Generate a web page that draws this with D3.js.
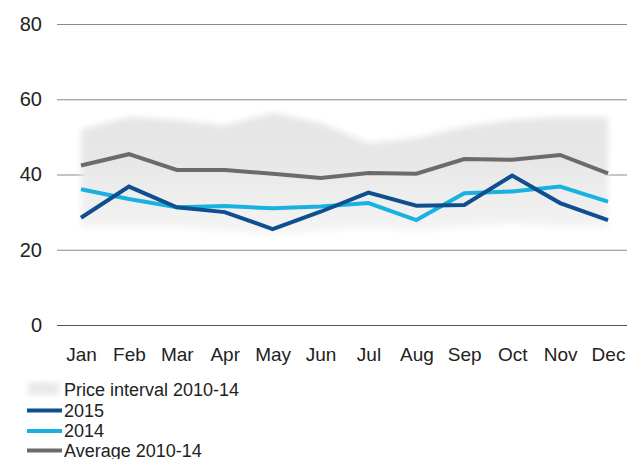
<!DOCTYPE html>
<html>
<head>
<meta charset="utf-8">
<script src="https://cdn.jsdelivr.net/npm/d3@7"></script>
<style>
  body { margin: 0; background: #fff; }
  text { font-family: "Liberation Sans", Arial, sans-serif; }
</style>
</head>
<body>
<div id="chart"></div>
<script>
// months on the x axis
const months = ["Jan","Feb","Mar","Apr","May","Jun","Jul","Aug","Sep","Oct","Nov","Dec"];
// price interval 2010-14 (min / max)
const bandLow  = [26, 26, 26, 25, 24, 25, 26, 25, 26, 27, 26, 26];
const bandHigh = [51.9, 55.3, 54.5, 53, 56.4, 53.7, 48.4, 49.7, 52.7, 54.5, 55.3, 55.3];
// series
const avg1014 = [42.4, 45.4, 41.2, 41.2, 40.2, 39.1, 40.4, 40.2, 44.1, 43.9, 45.2, 40.3];
const y2015   = [28.5, 36.8, 31.3, 30.0, 25.5, 30.1, 35.2, 31.7, 31.9, 39.7, 32.4, 27.9];
const y2014   = [36.1, 33.5, 31.3, 31.6, 31.0, 31.5, 32.4, 27.9, 35.0, 35.5, 36.8, 32.8];
const yTicks  = [0, 20, 40, 60, 80];

const w = 627, h = 459;
const svg = d3.select("#chart").append("svg").attr("width", w).attr("height", h);

const x = d3.scalePoint().domain(months).range([81, 608]);
const y = d3.scaleLinear().domain([0, 80]).range([325, 24]);

const defs = svg.append("defs");
// soft edge for the price band
defs.append("filter").attr("id", "soft")
  .append("feGaussianBlur").attr("stdDeviation", 3);
// band is darker at the top, fading out at the bottom
const grad = defs.append("linearGradient").attr("id", "bandFill")
  .attr("gradientUnits", "userSpaceOnUse")
  .attr("x1", 0).attr("x2", 0).attr("y1", y(56)).attr("y2", y(24));
grad.append("stop").attr("offset", "0%").attr("stop-color", "#e5e5e5");
grad.append("stop").attr("offset", "40%").attr("stop-color", "#e8e7e7");
grad.append("stop").attr("offset", "100%").attr("stop-color", "#f6f5f5");

// gridlines + y labels
const yAxis = d3.axisLeft(y).tickValues(yTicks).tickSize(-(w - 57)).tickPadding(15);
const gy = svg.append("g").attr("transform", "translate(57,0)").call(yAxis);
gy.select(".domain").remove();
gy.selectAll(".tick line").attr("stroke", d => d === 0 ? "#555" : "#8a8a8a").attr("stroke-width", 1.2);
gy.selectAll(".tick text").attr("font-size", 20).attr("fill", "#222").attr("x", -15);

// price interval band
const area = d3.area()
  .x((d, i) => x(months[i]))
  .y0(d => y(d[0]))
  .y1(d => y(d[1]));
svg.append("path")
  .datum(bandLow.map((v, i) => [v, bandHigh[i]]))
  .attr("d", area)
  .attr("fill", "url(#bandFill)")
  .attr("filter", "url(#soft)");

// lines
const line = d3.line().x((d, i) => x(months[i])).y(d => y(d));
const series = [
  { name: "Average 2010-14", values: avg1014, color: "#6e6a6a" },
  { name: "2014", values: y2014, color: "#19b1e0" },
  { name: "2015", values: y2015, color: "#0d4f8f" }
];
series.forEach(s => {
  svg.append("path")
    .attr("d", line(s.values))
    .attr("fill", "none")
    .attr("stroke", s.color)
    .attr("stroke-width", 4)
    .attr("stroke-linejoin", "miter");
});

// x labels
const xAxis = d3.axisBottom(x).tickSize(0).tickPadding(0);
const gx = svg.append("g").attr("transform", "translate(0,361)").call(xAxis);
gx.select(".domain").remove();
gx.selectAll(".tick text").attr("font-size", 19).attr("fill", "#222").attr("dy", 0).attr("y", 0);

// legend
const leg = svg.append("g");
leg.append("rect").attr("x", 28).attr("y", 382).attr("width", 31).attr("height", 13)
  .attr("fill", "#e8e8e8").attr("filter", "url(#soft)");
leg.append("text").attr("x", 64).attr("y", 396).attr("font-size", 18).attr("fill", "#222")
  .text("Price interval 2010-14");

const legLines = [
  { name: "2015", color: "#0d4f8f", y: 410.5 },
  { name: "2014", color: "#19b1e0", y: 431 },
  { name: "Average 2010-14", color: "#6e6a6a", y: 450.5 }
];
legLines.forEach(l => {
  leg.append("line").attr("x1", 27).attr("x2", 62).attr("y1", l.y).attr("y2", l.y)
    .attr("stroke", l.color).attr("stroke-width", 4);
  leg.append("text").attr("x", 64).attr("y", l.y + 6).attr("font-size", 18).attr("fill", "#222")
    .text(l.name);
});
</script>
</body>
</html>
